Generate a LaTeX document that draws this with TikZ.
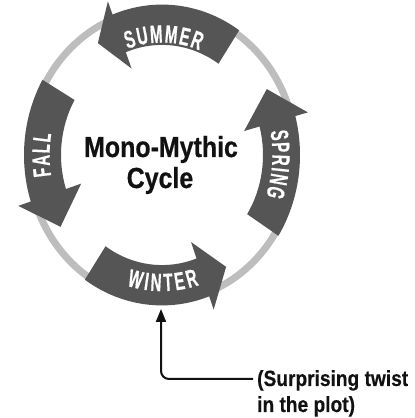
\documentclass[tikz,border=0pt]{standalone}
\usepackage{fontspec}
\usetikzlibrary{arrows.meta}
\newfontfamily\titlefam[FakeStretch=0.86,FakeBold=0.6]{Liberation Sans}
\newfontfamily\notefam[FakeStretch=0.87,FakeBold=0.3]{Liberation Sans}
\newfontfamily\arcfam[FakeStretch=0.6,FakeBold=0.5]{Liberation Sans}
\definecolor{arrowgray}{HTML}{555555}
\definecolor{ringgray}{HTML}{BDBDBD}
\definecolor{inkblack}{HTML}{111111}
% one letter on the ellipse: name, angle, radius, rotation offset, letter
\newcommand\arcletter[5]{%
  \node[arcchar,rotate={atan2(sin(#2)/1.09,cos(#2))#4}] (#1)
    at ({162+#3*cos(#2)},{263+1.09*#3*sin(#2)}) {#5};}
\begin{document}
\begin{tikzpicture}[x=1pt,y=1pt,
  seasonarrow/.style={fill=arrowgray},
  ringline/.style={draw=ringgray,line width=7pt},
  arcchar/.style={inner sep=0pt,anchor=center,text=white,font=\arcfam\bfseries\fontsize{25pt}{25pt}\selectfont},
  titletext/.style={inner sep=0pt,text=inkblack,font=\titlefam\bfseries\fontsize{29pt}{29pt}\selectfont},
  notetext/.style={inner sep=0pt,text=inkblack,font=\notefam\bfseries\fontsize{22pt}{22pt}\selectfont},
  pointer/.style={draw=inkblack,line width=2pt,rounded corners=8pt,-{Triangle[length=13pt,width=10pt]}}]
\useasboundingbox[fill=white] (0,0) rectangle (415,418);

% ring and arrows (ellipse frame)
\begin{scope}[shift={(162,263)},yscale=1.09]
  \draw[ringline] (0,0) circle[radius=134];
  % SUMMER
  \fill[seasonarrow] (56:138) arc[start angle=56,end angle=111,radius=138]
     -- (111:151) -- (122:121) -- (111:85) -- (111:101)
     arc[start angle=111,end angle=56,radius=101] -- cycle;
  % FALL
  \fill[seasonarrow] (150:138) arc[start angle=150,end angle=198,radius=138]
     -- (198:151) -- (213:121) -- (198:85) -- (198:101)
     arc[start angle=198,end angle=150,radius=101] -- cycle;
  % WINTER
  \fill[seasonarrow] (236:138) arc[start angle=236,end angle=290,radius=138]
     -- (290:151) -- (302:121) -- (290:85) -- (290:101)
     arc[start angle=290,end angle=236,radius=101] -- cycle;
  % SPRING
  \fill[seasonarrow] (-32.5:138) arc[start angle=-32.5,end angle=15,radius=138]
     -- (15:151) -- (30:121) -- (15:85) -- (15:101)
     arc[start angle=15,end angle=-32.5,radius=101] -- cycle;
\end{scope}

% SUMMER
\arcletter{su1}{107}{111}{-90}{S}
\arcletter{su2}{100.3}{111}{-90}{U}
\arcletter{su3}{93.0}{111}{-90}{M}
\arcletter{su4}{85.2}{111}{-90}{M}
\arcletter{su5}{78.1}{111}{-90}{E}
\arcletter{su6}{71.4}{111}{-90}{R}
% SPRING
\arcletter{sp1}{8.8}{119}{-90}{S}
\arcletter{sp2}{3.4}{119}{-90}{P}
\arcletter{sp3}{-2.3}{119}{-90}{R}
\arcletter{sp4}{-6.6}{119}{-90}{I}
\arcletter{sp5}{-10.9}{119}{-90}{N}
\arcletter{sp6}{-16.9}{119}{-90}{G}
% WINTER
\arcletter{wi1}{257}{117}{+90}{W}
\arcletter{wi2}{262.5}{117}{+90}{I}
\arcletter{wi3}{267.1}{117}{+90}{N}
\arcletter{wi4}{273.0}{117}{+90}{T}
\arcletter{wi5}{278.6}{117}{+90}{E}
\arcletter{wi6}{284.7}{117}{+90}{R}
% FALL
\arcletter{fa1}{187.6}{121}{-90}{F}
\arcletter{fa2}{182.4}{121}{-90}{A}
\arcletter{fa3}{177.2}{121}{-90}{L}
\arcletter{fa4}{172.3}{121}{-90}{L}

% centre title
\node[titletext,anchor=base] (title1) at (161,261) {Mono-Mythic};
\node[titletext,anchor=base] (title2) at (160,230) {Cycle};

% note and pointer
\node[notetext,anchor=base west] (note1) at (257,32) {(Surprising twist};
\node[notetext,anchor=base west] (note2) at (257,6) {in the plot)};
\coordinate (wintertip) at (161,109);
\draw[pointer] ([xshift=-4pt,yshift=7pt]note1.base west) -| (wintertip);
\end{tikzpicture}
\end{document}
